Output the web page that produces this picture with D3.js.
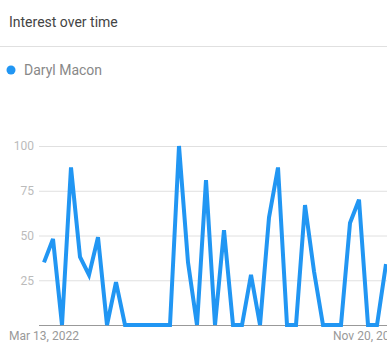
<!DOCTYPE html>
<html>
<head>
<meta charset="utf-8">
<script src="https://cdn.jsdelivr.net/npm/d3@7"></script>
<style>
  body { margin: 0; background: #fff; }
  svg { display: block; font-family: Roboto, sans-serif; }
</style>
</head>
<body>
<div id="vis"></div>
<script>
// weekly search interest, Mar 13 2022 onwards
let seriesName = 'Daryl Macon';
let values = [35, 48, 0, 88, 38, 28, 49, 0, 24, 0,
              0, 0, 0, 0, 0, 100, 35, 0, 81, 0,
              53, 0, 0, 28, 0, 60, 88, 0, 0, 67,
              30, 0, 0, 0, 57, 70, 0, 0, 34];
let yTicks = [25, 50, 75, 100];
let xTickIndex = [0, 36];
let xTickLabels = ['Mar 13, 2022', 'Nov 20, 2022'];

let width = 387, height = 364;

let svg = d3.select('#vis')
  .append('svg')
  .attr('width', width)
  .attr('height', height);

// header
svg.append('text')
  .attr('x', 9)
  .attr('y', 27)
  .attr('font-size', 14)
  .attr('fill', '#444')
  .text('Interest over time');

svg.append('line')
  .attr('x1', 0).attr('x2', width)
  .attr('y1', 46.5).attr('y2', 46.5)
  .attr('stroke', '#e0e0e0');

// legend
svg.append('circle')
  .attr('cx', 11).attr('cy', 70)
  .attr('r', 4.5)
  .attr('fill', '#2196f3');

svg.append('text')
  .attr('x', 24)
  .attr('y', 75)
  .attr('font-size', 14)
  .attr('fill', '#888')
  .text(seriesName);

let x = d3.scaleLinear()
  .domain([0, values.length - 1])
  .range([44, 386]);

let y = d3.scaleLinear()
  .domain([0, 100])
  .range([325, 146]);

let plotLeft = 39, plotRight = width;

// grid + y labels
let yAxis = svg.append('g')
  .attr('transform', 'translate(' + plotLeft + ',0)')
  .call(d3.axisLeft(y).tickValues(yTicks).tickSize(-(plotRight - plotLeft)).tickPadding(5));

yAxis.select('.domain').remove();
yAxis.selectAll('.tick line').attr('stroke', '#e0e0e0');
yAxis.selectAll('.tick text')
  .attr('fill', '#bbb')
  .attr('font-size', 12)
  .attr('font-family', 'Roboto, sans-serif');

// baseline
svg.append('line')
  .attr('x1', plotLeft).attr('x2', plotRight)
  .attr('y1', y(0) + 0.5).attr('y2', y(0) + 0.5)
  .attr('stroke', '#999');

// x labels
svg.selectAll('.xlab')
  .data(xTickIndex)
  .enter()
  .append('text')
  .attr('class', 'xlab')
  .attr('x', d => x(d))
  .attr('y', 340)
  .attr('text-anchor', 'middle')
  .attr('font-size', 12)
  .attr('fill', '#999')
  .text((d, i) => xTickLabels[i]);

// line
let line = d3.line()
  .x((d, i) => x(i))
  .y(d => y(d));

svg.append('path')
  .datum(values)
  .attr('d', line)
  .attr('fill', 'none')
  .attr('stroke', '#2196f3')
  .attr('stroke-width', 4)
  .attr('stroke-linejoin', 'miter');
</script>
</body>
</html>
